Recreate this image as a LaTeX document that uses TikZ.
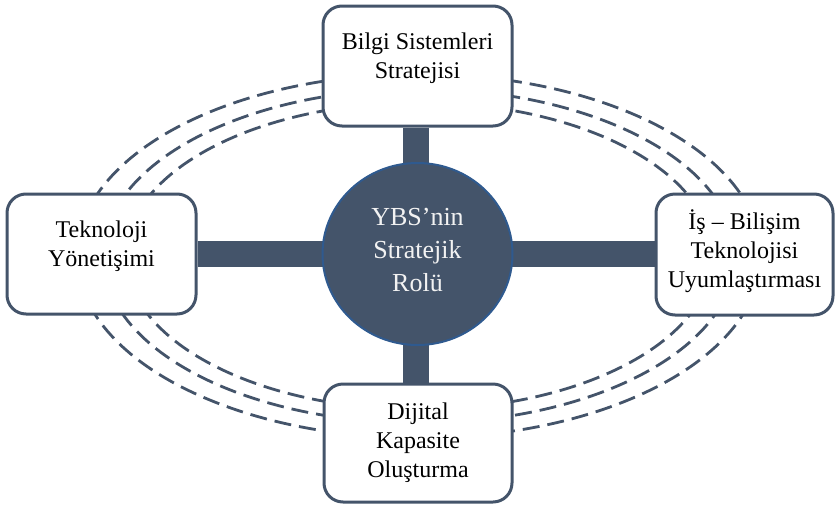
\documentclass[tikz,border=0pt]{standalone}
\usepackage{fontspec}
\setmainfont{Liberation Serif}
\usetikzlibrary{shapes.geometric}
\definecolor{slate}{HTML}{44546A}
\definecolor{rimblue}{HTML}{2F5A8F}
\definecolor{pale}{HTML}{F2F2F2}
\pgfdeclarelayer{background}
\pgfsetlayers{background,main}
\tikzset{
  ring/.style={draw=slate, line width=2.8pt, dash pattern=on 17pt off 8pt},
  bar/.style={draw=slate, line width=26pt},
  box/.style={draw=slate, fill=white, line width=3pt, rounded corners=19pt, inner sep=0pt},
  txt/.style={align=center, inner sep=0pt, font=\fontsize{24}{29}\selectfont},
  coretxt/.style={align=center, inner sep=0pt, text=pale, font=\fontsize{26}{33}\selectfont},
  core/.style={ellipse, draw=rimblue, fill=slate, line width=2pt, inner sep=0pt, minimum width=190pt, minimum height=182pt}
}
\begin{document}
\begin{tikzpicture}[x=1pt,y=-1pt]
\useasboundingbox (0,0) rectangle (839,507);
% boxes
\node[box, minimum width=189pt, minimum height=120pt] (sis) at (417.5,66) {};
\node[box, minimum width=189pt, minimum height=120pt] (tek) at (101.5,254) {};
\node[box, minimum width=177pt, minimum height=121pt] (uyum) at (744.5,254.5) {};
\node[box, minimum width=188pt, minimum height=118pt] (dij) at (418,443) {};
% centre
\node[core] (rol) at (417.5,254) {};
\node[coretxt] (roltxt) at (417.5,250) {YBS’nin\\Stratejik\\Rolü};
% rings and bars behind
\begin{pgfonlayer}{background}
\draw[ring] (419,256) ellipse [x radius=342, y radius=182];
\draw[ring] (419,256) ellipse [x radius=316, y radius=167];
\draw[ring] (419,256) ellipse [x radius=293, y radius=153.5];
\draw[bar] ([xshift=-1.5pt]sis.south) -- ([xshift=-1.5pt]sis.south |- dij.north);
\draw[bar] (tek.east) -- (tek.east -| uyum.west);
\end{pgfonlayer}
% texts
\node[txt] (sistxt) at (417.5,58.5) {Bilgi Sistemleri\\Stratejisi};
\node[txt] (tektxt) at (101.5,246) {Teknoloji\\Yönetişimi};
\node[txt] (uyumtxt) at (744.5,251) {İş – Bilişim\\Teknolojisi\\Uyumlaştırması};
\node[txt] (dijtxt) at (418,442.5) {Dijital\\Kapasite\\Oluşturma};
\end{tikzpicture}
\end{document}
